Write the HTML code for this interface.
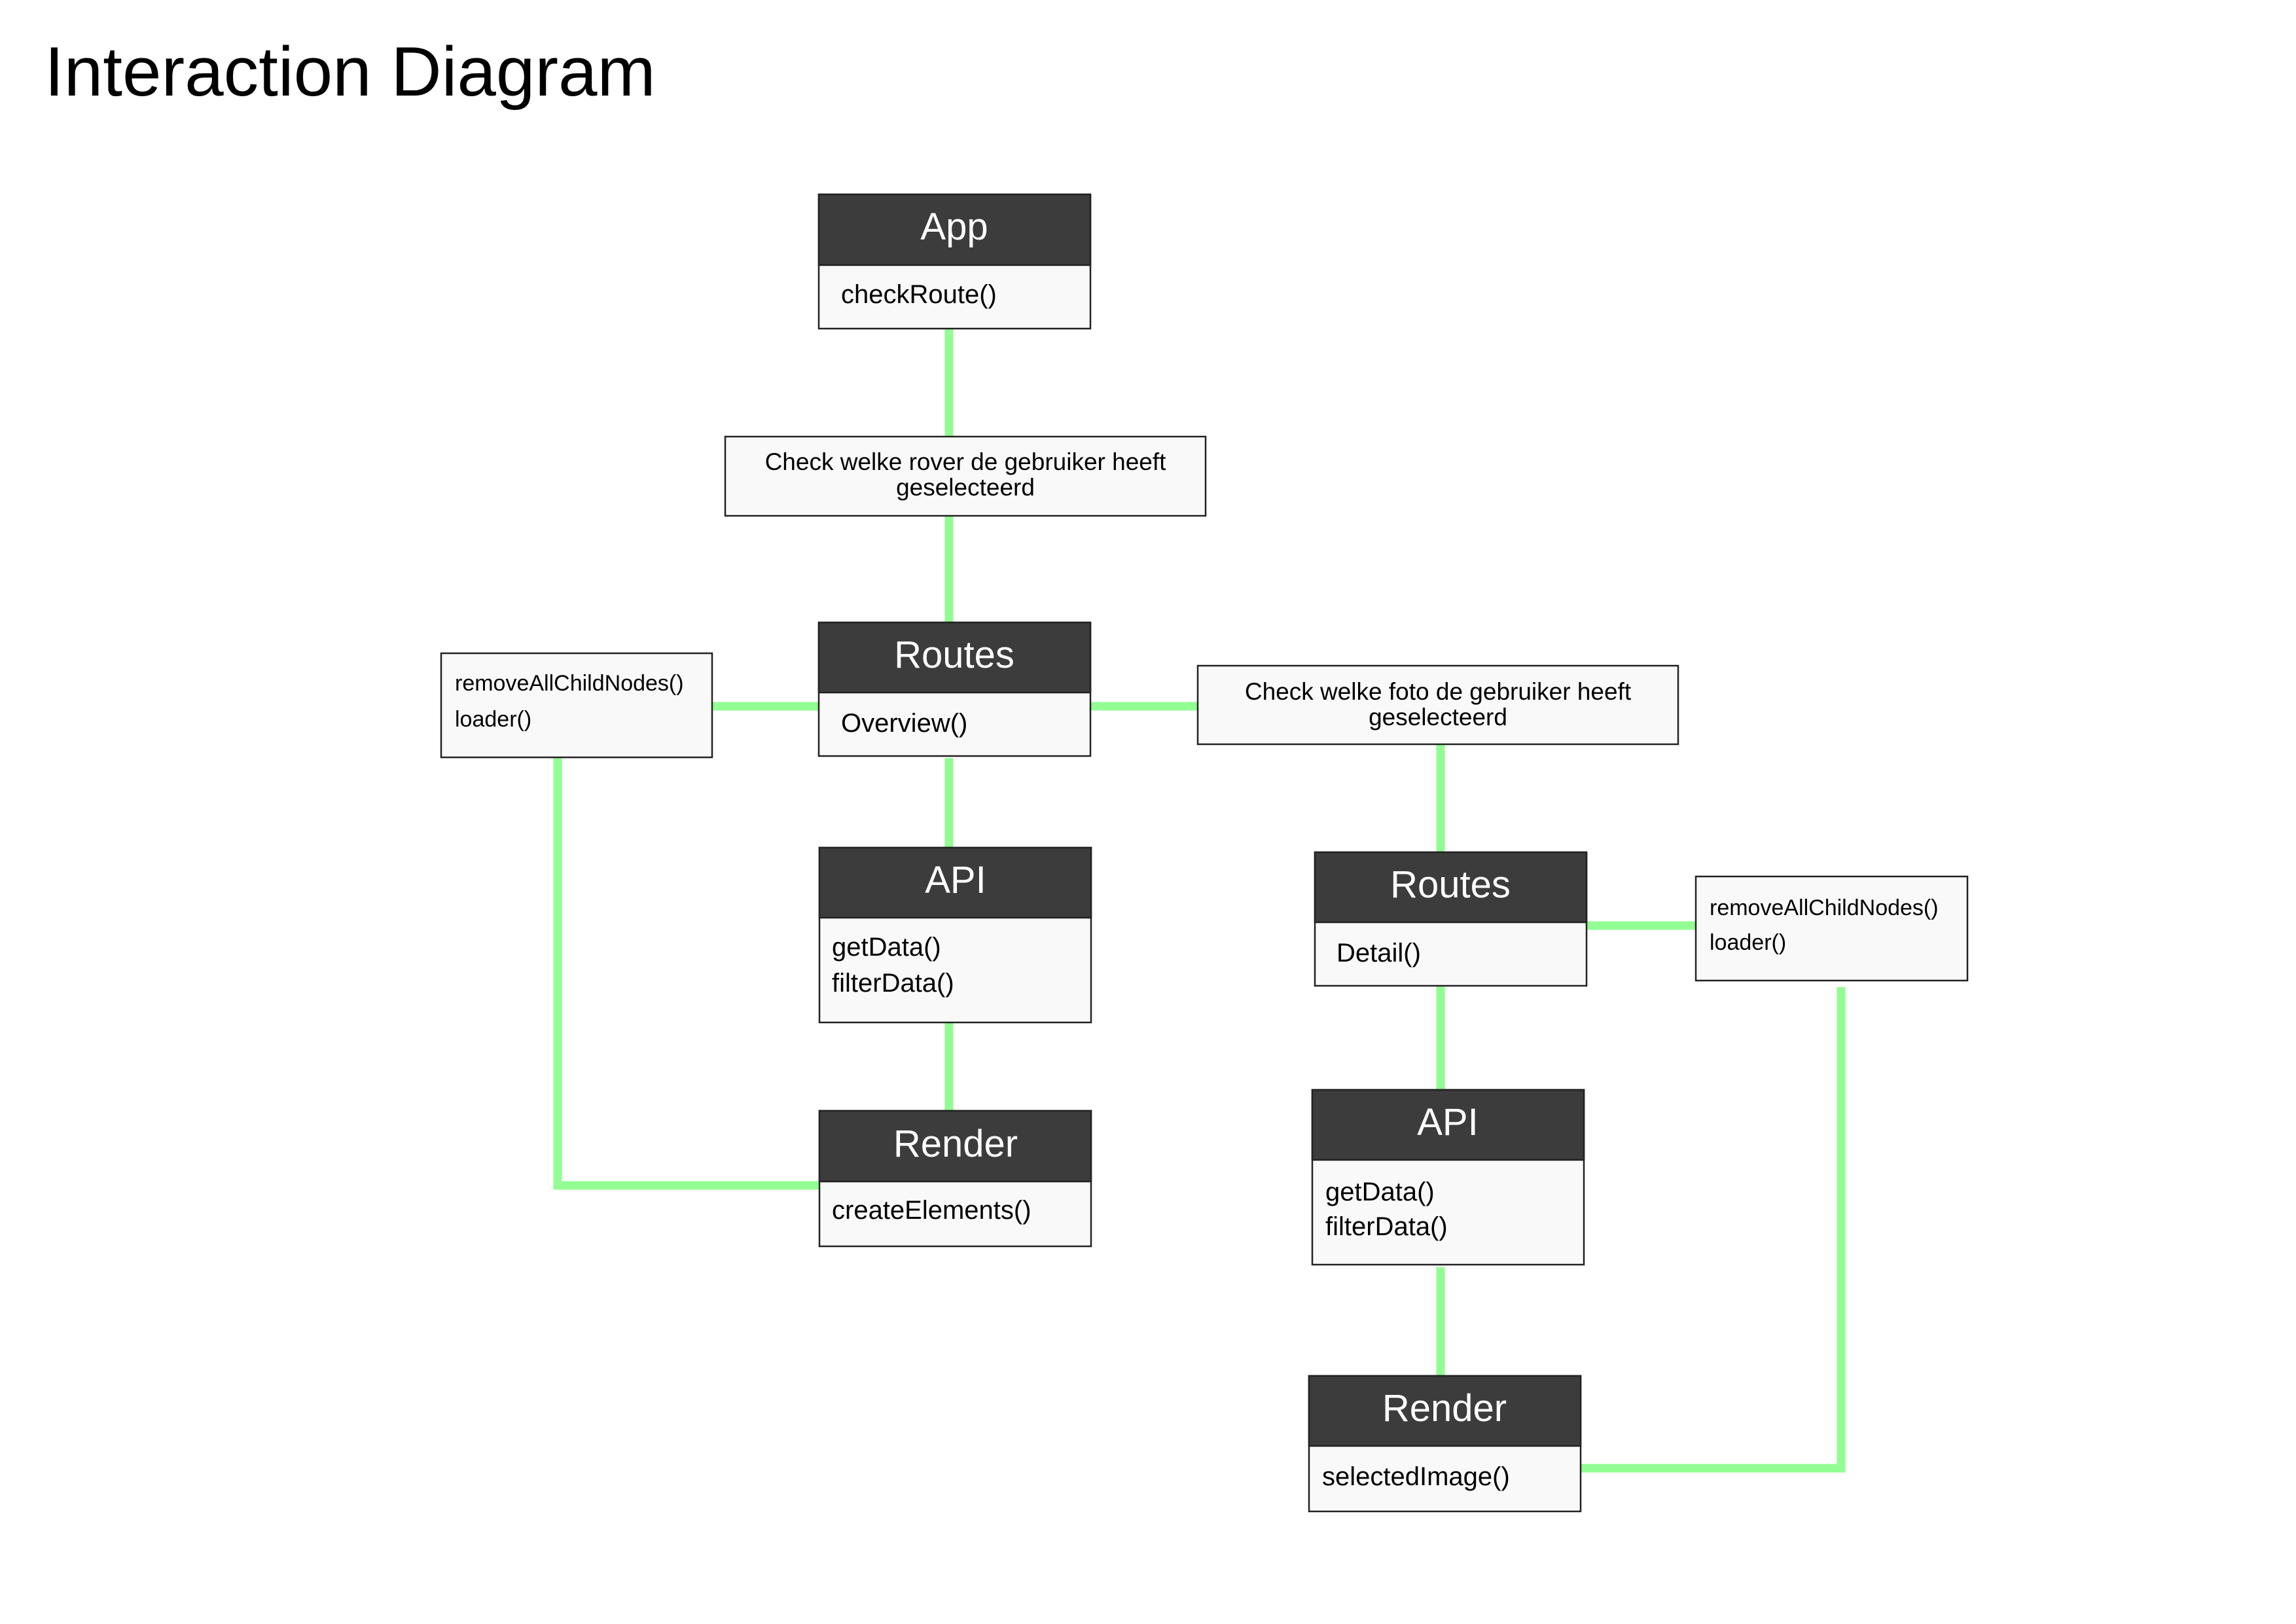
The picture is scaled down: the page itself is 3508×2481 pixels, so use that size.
<!DOCTYPE html>
<html><head><meta charset="utf-8"><style>
html,body{margin:0;padding:0;background:#fff;}
svg{display:block;}
text{font-family:"Liberation Sans",Arial,sans-serif;}
</style></head><body>
<svg width="3508" height="2481" viewBox="0 0 3508 2481" xmlns="http://www.w3.org/2000/svg">
<rect width="3508" height="2481" fill="#fff"/>
<text x="68" y="146" font-size="107" fill="#000">Interaction Diagram</text>

<g stroke="#92fd92" stroke-width="13" fill="none">
<line x1="1450" y1="502" x2="1450" y2="667"/>
<line x1="1450" y1="788" x2="1450" y2="951"/>
<line x1="1088" y1="1079" x2="1251" y2="1079"/>
<line x1="1666" y1="1079" x2="1830" y2="1079"/>
<line x1="1450" y1="1158" x2="1450" y2="1295"/>
<line x1="1450" y1="1560" x2="1450" y2="1697"/>
<polyline points="852,1157 852,1811 1252,1811"/>
<line x1="2201" y1="1137" x2="2201" y2="1302"/>
<line x1="2424" y1="1414" x2="2591" y2="1414"/>
<line x1="2201" y1="1506" x2="2201" y2="1665"/>
<line x1="2201" y1="1936" x2="2201" y2="2102"/>
<polyline points="2813,1508 2813,2243 2415,2243"/>
</g>

<g stroke="#222" stroke-width="2.5">
<rect x="1251" y="297" width="415" height="205" fill="#f9f9f9"/>
<rect x="1251" y="297" width="415" height="108" fill="#3c3c3c"/>
<rect x="1108" y="667" width="734" height="121" fill="#f9f9f9"/>
<rect x="1251" y="951" width="415" height="204" fill="#f9f9f9"/>
<rect x="1251" y="951" width="415" height="107" fill="#3c3c3c"/>
<rect x="674" y="998" width="414" height="159" fill="#f9f9f9"/>
<rect x="1830" y="1017" width="734" height="120" fill="#f9f9f9"/>
<rect x="1252" y="1295" width="415" height="267" fill="#f9f9f9"/>
<rect x="1252" y="1295" width="415" height="107" fill="#3c3c3c"/>
<rect x="1252" y="1697" width="415" height="207" fill="#f9f9f9"/>
<rect x="1252" y="1697" width="415" height="108" fill="#3c3c3c"/>
<rect x="2009" y="1302" width="415" height="204" fill="#f9f9f9"/>
<rect x="2009" y="1302" width="415" height="107" fill="#3c3c3c"/>
<rect x="2591" y="1339" width="415" height="159" fill="#f9f9f9"/>
<rect x="2005" y="1665" width="415" height="267" fill="#f9f9f9"/>
<rect x="2005" y="1665" width="415" height="107" fill="#3c3c3c"/>
<rect x="2000" y="2102" width="415" height="207" fill="#f9f9f9"/>
<rect x="2000" y="2102" width="415" height="107" fill="#3c3c3c"/>
</g>

<g fill="#fff" font-size="58" text-anchor="middle">
<text x="1458" y="366">App</text>
<text x="1458" y="1020">Routes</text>
<text x="1460" y="1364">API</text>
<text x="1460" y="1767">Render</text>
<text x="2216" y="1371">Routes</text>
<text x="2212" y="1734">API</text>
<text x="2207" y="2171">Render</text>
</g>

<g fill="#000" font-size="40">
<text x="1285" y="463">checkRoute()</text>
<text x="1285" y="1118">Overview()</text>
<text x="1271" y="1460">getData()</text>
<text x="1271" y="1515">filterData()</text>
<text x="1271" y="1862">createElements()</text>
<text x="2042" y="1469">Detail()</text>
<text x="2025" y="1834">getData()</text>
<text x="2025" y="1887">filterData()</text>
<text x="2020" y="2269">selectedImage()</text>
</g>

<g fill="#000" font-size="34">
<text x="695" y="1055">removeAllChildNodes()</text>
<text x="695" y="1110">loader()</text>
<text x="2612" y="1398">removeAllChildNodes()</text>
<text x="2612" y="1451">loader()</text>
</g>

<g fill="#000" font-size="37" text-anchor="middle">
<text x="1475" y="718">Check welke rover de gebruiker heeft</text>
<text x="1475" y="757">geselecteerd</text>
<text x="2197" y="1069">Check welke foto de gebruiker heeft</text>
<text x="2197" y="1108">geselecteerd</text>
</g>
</svg>
</body></html>
